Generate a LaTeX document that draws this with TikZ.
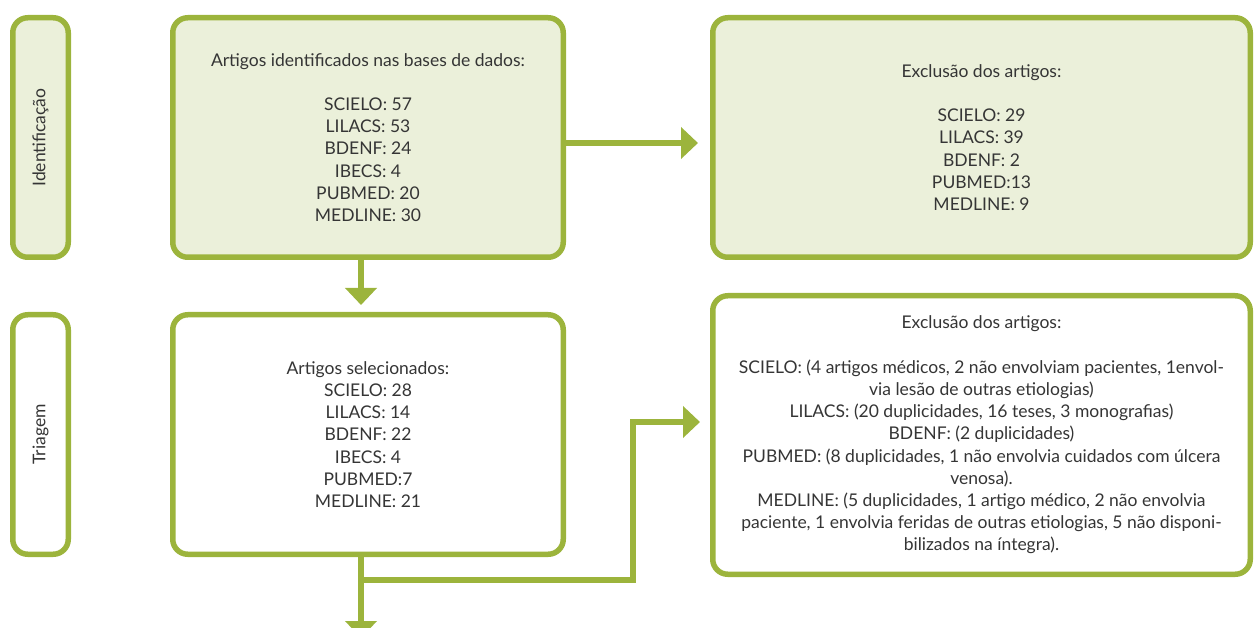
\documentclass[tikz,border=0pt]{standalone}
\usepackage{fontspec}
\setmainfont{Lato}
\usetikzlibrary{arrows.meta}
\definecolor{gborder}{HTML}{9CB43C}
\definecolor{gfill}{HTML}{EBF0DA}
\definecolor{txtc}{HTML}{353535}
\begin{document}
\begin{tikzpicture}[x=1pt,y=-1pt,
  box/.style={draw=gborder, line width=5.5pt, rounded corners=15pt, rectangle,
    inner sep=0pt, align=center, text=txtc,
    font={\fontsize{17.5}{22.2}\selectfont}},
  greenbox/.style={box, fill=gfill},
  whitebox/.style={box, fill=white},
  conn/.style={draw=gborder, line width=6pt},
  arr/.style={conn, -{Triangle[length=17pt,width=31pt]}}
]
\useasboundingbox (0,0) rectangle (1254,628);

\node[greenbox, minimum width=55.5pt, minimum height=239.5pt] (s1) at (40.5,137.5)
  {\rotatebox{90}{Identificação}};
\node[greenbox, minimum width=390.5pt, minimum height=239.5pt] (A) at (368,137.5)
  {Artigos identificados nas bases de dados:\\[22.2pt]
   SCIELO: 57\\ LILACS: 53\\ BDENF: 24\\ IBECS: 4\\ PUBMED: 20\\ MEDLINE: 30};
\node[greenbox, minimum width=537.5pt, minimum height=239.5pt] (B) at (981.5,137.5)
  {Exclusão dos artigos:\\[22.2pt]
   SCIELO: 29\\ LILACS: 39\\ BDENF: 2\\ PUBMED:13\\ MEDLINE: 9};

\node[whitebox, minimum width=55.5pt, minimum height=239.5pt] (s2) at (40.5,434.5)
  {\rotatebox{90}{Triagem}};
\node[whitebox, minimum width=390.5pt, minimum height=239.5pt] (C) at (368,434.5)
  {Artigos selecionados:\\
   SCIELO: 28\\ LILACS: 14\\ BDENF: 22\\ IBECS: 4\\ PUBMED:7\\ MEDLINE: 21};
\node[whitebox, minimum width=537.5pt, minimum height=278.5pt] (D) at (981.5,435)
  {Exclusão dos artigos:\\[22.2pt]
   SCIELO: (4 artigos médicos, 2 não envolviam pacientes, 1envol-\\
   via lesão de outras etiologias)\\
   LILACS: (20 duplicidades, 16 teses, 3 monografias)\\
   BDENF: (2 duplicidades)\\
   PUBMED: (8 duplicidades, 1 não envolvia cuidados com úlcera\\
   venosa).\\
   MEDLINE: (5 duplicidades, 1 artigo médico, 2 não envolvia\\
   paciente, 1 envolvia feridas de outras etiologias, 5 não disponi-\\
   bilizados na íntegra).};

\coordinate (bj) at (361,580);
\coordinate (bend) at (633,580);
\coordinate (bottom) at (361,638);

\draw[arr, shorten >=12pt] ([yshift=-5.5pt]A.east) -- ([yshift=-5.5pt]B.west);
\draw[arr, shorten >=7pt] ([xshift=-7pt]A.south) -- ([xshift=-7pt]C.north);
\draw[arr] ([xshift=-7pt]C.south) -- (bottom);
\draw[arr, shorten >=10pt] (bj) -- (bend) |- ([yshift=13pt]D.west);
\end{tikzpicture}
\end{document}
